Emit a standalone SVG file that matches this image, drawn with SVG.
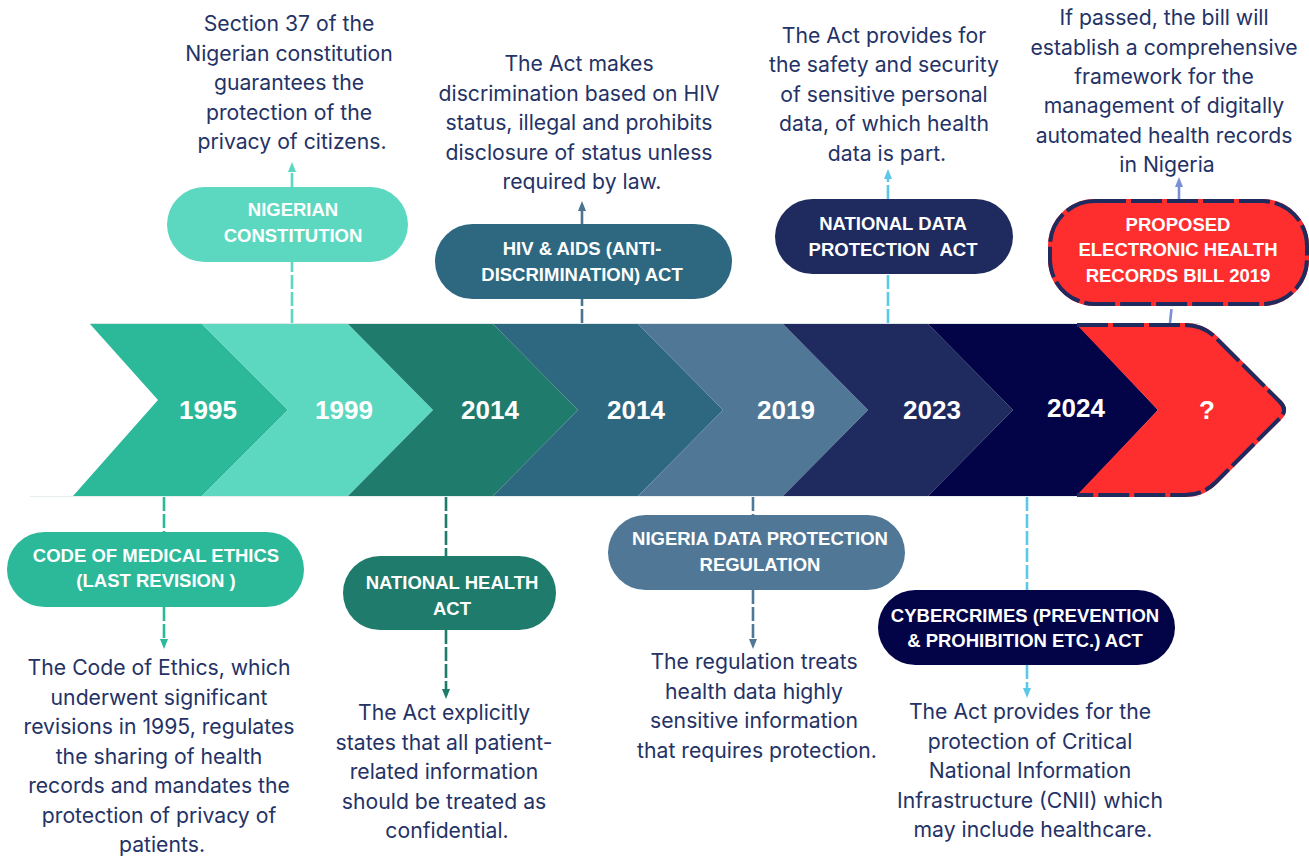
<svg xmlns="http://www.w3.org/2000/svg" width="1309" height="857" viewBox="0 0 1309 857">
  <defs>
    <style>
      .year { font-family: "Liberation Sans", Arial, sans-serif; font-weight: 700; font-size: 26px; fill: #ffffff; text-anchor: middle; }
      .pill-label { font-family: "Liberation Sans", Arial, sans-serif; font-weight: 700; font-size: 18.5px; fill: #ffffff; text-anchor: middle; }
      .note { font-family: Inter, "Liberation Sans", sans-serif; font-size: 21.2px; fill: #243266; text-anchor: middle; }
      .conn { fill: none; stroke-width: 2.6; stroke-dasharray: 14 3; }
      .dash-edge { fill: none; stroke: #1F2A5E; stroke-width: 4; stroke-dasharray: 31 5; }
      .red-edge { fill: none; stroke: #FF2E2E; stroke-width: 4; }
    </style>
    <marker id="arrow-teal" viewBox="0 0 10 8" refX="5" refY="4" markerWidth="10" markerHeight="8" markerUnits="userSpaceOnUse" orient="auto">
      <path d="M0,0 L10,4 L0,8 Z" fill="#2BB99A"/>
    </marker>
    <marker id="arrow-mint" viewBox="0 0 10 8" refX="5" refY="4" markerWidth="10" markerHeight="8" markerUnits="userSpaceOnUse" orient="auto">
      <path d="M0,0 L10,4 L0,8 Z" fill="#5DD8C0"/>
    </marker>
    <marker id="arrow-green" viewBox="0 0 10 8" refX="5" refY="4" markerWidth="10" markerHeight="8" markerUnits="userSpaceOnUse" orient="auto">
      <path d="M0,0 L10,4 L0,8 Z" fill="#1F7B6C"/>
    </marker>
    <marker id="arrow-petrol" viewBox="0 0 10 8" refX="5" refY="4" markerWidth="10" markerHeight="8" markerUnits="userSpaceOnUse" orient="auto">
      <path d="M0,0 L10,4 L0,8 Z" fill="#4A7490"/>
    </marker>
    <marker id="arrow-steel" viewBox="0 0 10 8" refX="5" refY="4" markerWidth="10" markerHeight="8" markerUnits="userSpaceOnUse" orient="auto">
      <path d="M0,0 L10,4 L0,8 Z" fill="#507896"/>
    </marker>
    <marker id="arrow-sky" viewBox="0 0 10 8" refX="5" refY="4" markerWidth="10" markerHeight="8" markerUnits="userSpaceOnUse" orient="auto">
      <path d="M0,0 L10,4 L0,8 Z" fill="#5BC8E8"/>
    </marker>
    <marker id="arrow-lilac" viewBox="0 0 10 8" refX="5" refY="4" markerWidth="10" markerHeight="8" markerUnits="userSpaceOnUse" orient="auto">
      <path d="M0,0 L10,4 L0,8 Z" fill="#7B8FD8"/>
    </marker>
  </defs>

  <rect width="1309" height="857" fill="#ffffff"/>

  <!-- timeline band -->
  <g id="timeline">
    <line x1="90" y1="323.5" x2="1200" y2="323.5" stroke="#dde7ea" stroke-width="1"/>
    <line x1="30" y1="496.5" x2="1200" y2="496.5" stroke="#e6eef0" stroke-width="1"/>
    <polygon points="90,324 202,324 288,410 202,496 73,496 158,400" fill="#2BB99A"/>
    <polygon points="202,324 348,324 433,410 348,496 202,496 288,410" fill="#5DD8C0"/>
    <polygon points="348,324 493,324 578,410 493,496 348,496 433,410" fill="#1F7B6C"/>
    <polygon points="493,324 638,324 723,410 638,496 493,496 578,410" fill="#2E6880"/>
    <polygon points="638,324 783,324 868,410 783,496 638,496 723,410" fill="#507896"/>
    <polygon points="783,324 928,324 1013,410 928,496 783,496 868,410" fill="#1F2B5F"/>
    <polygon points="928,324 1077,324 1158,410 1077,496 928,496 1013,410" fill="#020447"/>
    <path d="M1077,325 L1185,325 Q1203,325 1216,338 L1280,402 Q1288,410 1280,418 L1216,482 Q1203,495 1185,495 L1077,495 L1158,410 Z" fill="#FF2E2E"/>
    <path class="red-edge" d="M1077,325 L1185,325 Q1203,325 1216,338 L1280,402 Q1288,410 1280,418 L1216,482 Q1203,495 1185,495 L1077,495"/>
    <path class="dash-edge" d="M1077,325 L1185,325 Q1203,325 1216,338 L1280,402 Q1288,410 1280,418 L1216,482 Q1203,495 1185,495 L1077,495"/>
    <text class="year" x="208" y="419">1995</text>
    <text class="year" x="344" y="419">1999</text>
    <text class="year" x="490" y="419">2014</text>
    <text class="year" x="636" y="419">2014</text>
    <text class="year" x="786" y="419">2019</text>
    <text class="year" x="932" y="419">2023</text>
    <text class="year" x="1076" y="417">2024</text>
    <text class="year" x="1207" y="419">?</text>
  </g>

  <!-- connectors -->
  <g id="connectors">
    <line class="conn" x1="292" y1="323" x2="292" y2="262" stroke="#5DD8C0"/>
    <line class="conn" x1="292" y1="187" x2="292" y2="167" stroke="#5DD8C0" stroke-dasharray="none" marker-end="url(#arrow-mint)"/>
    <line class="conn" x1="582" y1="323" x2="582" y2="299" stroke="#4A7490"/>
    <line class="conn" x1="582" y1="224" x2="582" y2="206" stroke="#4A7490" stroke-dasharray="none" marker-end="url(#arrow-petrol)"/>
    <line class="conn" x1="888" y1="323" x2="888" y2="274" stroke="#5BC8E8"/>
    <line class="conn" x1="888" y1="199" x2="888" y2="174" stroke="#5BC8E8" marker-end="url(#arrow-sky)"/>
    <line class="conn" x1="1170" y1="323" x2="1172" y2="304" stroke="#7B8FD8" stroke-dasharray="none"/>
    <line class="conn" x1="1179" y1="201" x2="1179" y2="182" stroke="#7B8FD8" stroke-dasharray="none" marker-end="url(#arrow-lilac)"/>
    <line class="conn" x1="164" y1="497" x2="164" y2="532" stroke="#2BB99A"/>
    <line class="conn" x1="164" y1="607" x2="164" y2="644" stroke="#2BB99A" marker-end="url(#arrow-teal)"/>
    <line class="conn" x1="446" y1="497" x2="446" y2="556" stroke="#1F7B6C"/>
    <line class="conn" x1="446" y1="630" x2="446" y2="694" stroke="#1F7B6C" marker-end="url(#arrow-green)"/>
    <line class="conn" x1="753" y1="497" x2="753" y2="515" stroke="#507896"/>
    <line class="conn" x1="753" y1="590" x2="753" y2="644" stroke="#507896" marker-end="url(#arrow-steel)"/>
    <line class="conn" x1="1027" y1="497" x2="1027" y2="590" stroke="#5BC8E8"/>
    <line class="conn" x1="1027" y1="665" x2="1027" y2="693" stroke="#5BC8E8" marker-end="url(#arrow-sky)"/>
  </g>

  <!-- 1999: Nigerian Constitution -->
  <g id="nigerian-constitution">
    <rect x="167" y="187" width="241" height="75" rx="37.5" fill="#5DD8C0"/>
    <text class="pill-label" x="293" y="216">NIGERIAN</text>
    <text class="pill-label" x="293" y="242">CONSTITUTION</text>
    <text class="note">
      <tspan x="292" y="31">Section 37 of the</tspan>
      <tspan x="292" y="60.5">Nigerian constitution</tspan>
      <tspan x="292" y="90">guarantees the</tspan>
      <tspan x="292" y="119.5">protection of the</tspan>
      <tspan x="292" y="149">privacy of citizens.</tspan>
    </text>
  </g>

  <!-- 2014: HIV & AIDS Act -->
  <g id="hiv-aids-act">
    <rect x="435" y="224" width="297" height="75" rx="37.5" fill="#2E6880"/>
    <text class="pill-label" x="582" y="255">HIV &amp; AIDS (ANTI-</text>
    <text class="pill-label" x="582" y="281">DISCRIMINATION) ACT</text>
    <text class="note">
      <tspan x="582" y="71">The Act makes</tspan>
      <tspan x="582" y="100.5">discrimination based on HIV</tspan>
      <tspan x="582" y="130">status, illegal and prohibits</tspan>
      <tspan x="582" y="159.5">disclosure of status unless</tspan>
      <tspan x="582" y="189">required by law.</tspan>
    </text>
  </g>

  <!-- 2023: National Data Protection Act -->
  <g id="national-data-protection-act">
    <rect x="775" y="199" width="238" height="75" rx="37.5" fill="#1F2B5F"/>
    <text class="pill-label" x="893" y="230">NATIONAL DATA</text>
    <text class="pill-label" x="893" y="256">PROTECTION&#160; ACT</text>
    <text class="note">
      <tspan x="887" y="43">The Act provides for</tspan>
      <tspan x="887" y="72">the safety and security</tspan>
      <tspan x="887" y="101.5">of sensitive personal</tspan>
      <tspan x="887" y="131">data, of which health</tspan>
      <tspan x="887" y="160.5">data is part.</tspan>
    </text>
  </g>

  <!-- ?: Proposed Electronic Health Records Bill -->
  <g id="ehr-bill">
    <rect x="1050" y="201" width="257" height="103" rx="45" fill="#FF2E2E" stroke="#FF2E2E" stroke-width="4"/>
    <rect class="dash-edge" x="1050" y="201" width="257" height="103" rx="45"/>
    <text class="pill-label" x="1178" y="231">PROPOSED</text>
    <text class="pill-label" x="1178" y="256">ELECTRONIC HEALTH</text>
    <text class="pill-label" x="1178" y="282">RECORDS BILL 2019</text>
    <text class="note">
      <tspan x="1167" y="25">If passed, the bill will</tspan>
      <tspan x="1167" y="54.5">establish a comprehensive</tspan>
      <tspan x="1167" y="84">framework for the</tspan>
      <tspan x="1167" y="113">management of digitally</tspan>
      <tspan x="1167" y="142.5">automated health records</tspan>
      <tspan x="1167" y="172">in Nigeria</tspan>
    </text>
  </g>

  <!-- 1995: Code of Medical Ethics -->
  <g id="code-of-medical-ethics">
    <rect x="7" y="532" width="297" height="75" rx="37.5" fill="#2BB99A"/>
    <text class="pill-label" x="156" y="562">CODE OF MEDICAL ETHICS</text>
    <text class="pill-label" x="156" y="587">(LAST REVISION )</text>
    <text class="note">
      <tspan x="162" y="675">The Code of Ethics, which</tspan>
      <tspan x="162" y="704.5">underwent significant</tspan>
      <tspan x="162" y="734">revisions in 1995, regulates</tspan>
      <tspan x="162" y="763.5">the sharing of health</tspan>
      <tspan x="162" y="793">records and mandates the</tspan>
      <tspan x="162" y="822.5">protection of privacy of</tspan>
      <tspan x="162" y="852">patients.</tspan>
    </text>
  </g>

  <!-- 2014: National Health Act -->
  <g id="national-health-act">
    <rect x="343" y="556" width="213" height="74" rx="37" fill="#1F7B6C"/>
    <text class="pill-label" x="452" y="589">NATIONAL HEALTH</text>
    <text class="pill-label" x="452" y="615">ACT</text>
    <text class="note">
      <tspan x="447" y="720">The Act explicitly</tspan>
      <tspan x="447" y="749.5">states that all patient-</tspan>
      <tspan x="447" y="779">related information</tspan>
      <tspan x="447" y="808.5">should be treated as</tspan>
      <tspan x="447" y="838">confidential.</tspan>
    </text>
  </g>

  <!-- 2019: Nigeria Data Protection Regulation -->
  <g id="nigeria-data-protection-regulation">
    <rect x="608" y="515" width="297" height="75" rx="37.5" fill="#507896"/>
    <text class="pill-label" x="760" y="545">NIGERIA DATA PROTECTION</text>
    <text class="pill-label" x="760" y="571">REGULATION</text>
    <text class="note">
      <tspan x="757" y="669">The regulation treats</tspan>
      <tspan x="757" y="698.5">health data highly</tspan>
      <tspan x="757" y="728">sensitive information</tspan>
      <tspan x="757" y="757.5">that requires protection.</tspan>
    </text>
  </g>

  <!-- 2024: Cybercrimes Act -->
  <g id="cybercrimes-act">
    <rect x="878" y="590" width="297" height="75" rx="37.5" fill="#020447"/>
    <text class="pill-label" x="1025" y="622">CYBERCRIMES (PREVENTION</text>
    <text class="pill-label" x="1025" y="647">&amp; PROHIBITION ETC.) ACT</text>
    <text class="note">
      <tspan x="1033" y="719">The Act provides for the</tspan>
      <tspan x="1033" y="748.5">protection of Critical</tspan>
      <tspan x="1033" y="778">National Information</tspan>
      <tspan x="1033" y="807.5">Infrastructure (CNII) which</tspan>
      <tspan x="1033" y="837">may include healthcare.</tspan>
    </text>
  </g>
</svg>
